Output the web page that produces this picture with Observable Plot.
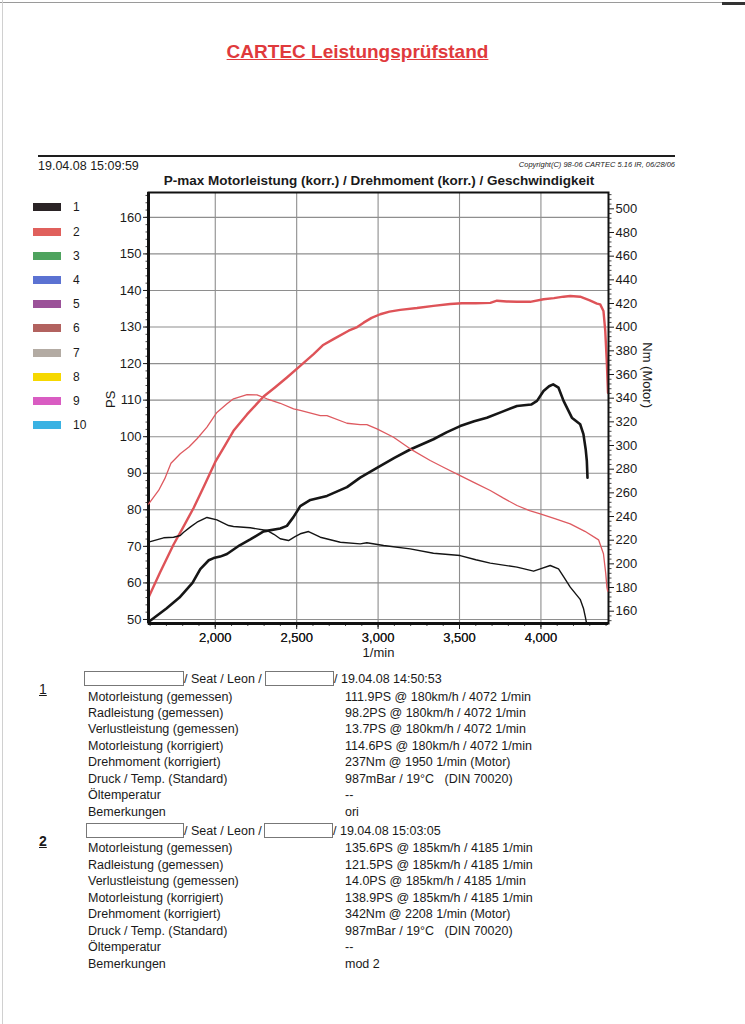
<!DOCTYPE html>
<html><head><meta charset="utf-8">
<script src="https://cdn.jsdelivr.net/npm/d3@7"></script>
<script src="https://cdn.jsdelivr.net/npm/@observablehq/plot@0.6"></script>
<style>
body{margin:0;background:#fff;font-family:"Liberation Sans",Arial,sans-serif;color:#1a1a1a;}
#page{position:relative;width:745px;height:1024px;overflow:hidden;background:#fff;}
.abs{position:absolute;white-space:pre;line-height:16px;}
.box{position:absolute;border:1px solid #777;height:13px;background:#fff;}
.plotwrap{position:absolute;left:0;top:186px;}
</style></head><body><div id="page"></div>
<script>
// ---------- data ----------
const rpmTicks = [2000, 2500, 3000, 3500, 4000];
const rpmMinor = [1600,1700,1800,1900,2100,2200,2300,2400,2600,2700,2800,2900,3100,3200,3300,3400,3600,3700,3800,3900,4100,4200,4300,4400];
const psTicks = [50, 60, 70, 80, 90, 100, 110, 120, 130, 140, 150, 160];
const psMinor = [50,52,54,56,58,60,62,64,66,68,70,72,74,76,78,80,82,84,86,88,90,92,94,96,98,100,102,104,106,108,110,112,114,116,118,120,122,124,126,128,130,132,134,136,138,140,142,144,146,148,150,152,154,156,158,160,162,164,166];
const nmTicks = [160, 180, 200, 220, 240, 260, 280, 300, 320, 340, 360, 380, 400, 420, 440, 460, 480, 500];
const nmMinor = [152,156,164,168,172,176,184,188,192,196,204,208,212,216,224,228,232,236,244,248,252,256,264,268,272,276,284,288,292,296,304,308,312,316,324,328,332,336,344,348,352,356,364,368,372,376,384,388,392,396,404,408,412,416,424,428,432,436,444,448,452,456,464,468,472,476,484,488,492,496,504,508,512];

const legendLabels = ["1","2","3","4","5","6","7","8","9","10"];
const legendColors = ["#2a2325","#e0605c","#4ea35e","#5b72d2","#9b5299","#b2625f","#b3aba3","#f6d800","#d95cc2","#3ab2e3"];

// Run 1 (black): power in PS, torque in Nm
const run1Power = [[1590,49.3],[1700,53],[1780,56],[1860,60],[1908,63.8],[1960,66.2],[1990,66.8],[2030,67.2],[2072,67.9],[2150,70.3],[2215,71.9],[2297,74.1],[2399,74.9],[2440,75.6],[2480,78],[2522,81],[2584,82.7],[2686,83.8],[2809,86.2],[2890,88.8],[2993,91.5],[3100,94.2],[3197,96.5],[3340,99.3],[3420,101.2],[3504,102.9],[3590,104.2],[3668,105.2],[3760,106.8],[3853,108.4],[3940,108.8],[3976,109.8],[4016,112.5],[4050,113.8],[4075,114.3],[4108,113.4],[4139,109.8],[4190,105.2],[4241,103.4],[4261,100.7],[4275,96.5],[4282,93.3],[4286,88.8]];
const run1Torque = [[1590,218.3],[1683,222],[1744,222.5],[1785,224],[1806,226.7],[1850,231.5],[1888,235.2],[1949,239.2],[2010,237.2],[2082,232.4],[2112,231.6],[2215,230.5],[2317,228.2],[2360,225],[2399,221.2],[2450,219.7],[2490,223],[2522,225.4],[2573,227.3],[2645,222.5],[2768,218.3],[2890,216.9],[2931,217.8],[3034,215.5],[3197,212.7],[3340,209],[3504,207],[3600,203.5],[3689,200.6],[3853,197.2],[3955,193.8],[3996,195.8],[4057,198.6],[4108,195.8],[4140,189],[4180,180.3],[4241,170],[4262,162],[4273,155],[4280,149.9]];

// Run 2 (red): power in PS, torque in Nm
const run2Power = [[1590,56],[1660,62.8],[1744,70.5],[1800,75],[1867,80.5],[1930,86.4],[2000,93.1],[2060,97.6],[2112,101.6],[2195,106.1],[2297,111],[2370,113.6],[2440,116.2],[2520,119.3],[2604,122.6],[2660,125],[2726,126.7],[2819,129],[2872,130],[2911,131.2],[2960,132.5],[3013,133.5],[3070,134.2],[3136,134.7],[3239,135.2],[3340,135.8],[3443,136.3],[3515,136.5],[3600,136.5],[3689,136.6],[3730,137.2],[3790,137],[3853,136.9],[3934,136.9],[4016,137.6],[4080,137.9],[4139,138.3],[4180,138.5],[4241,138.3],[4300,137.3],[4344,136.4],[4364,136.2],[4384,134.4],[4395,129],[4405,120],[4412,112]];
const run2Torque = [[1590,250.5],[1652,262],[1690,272],[1728,285],[1785,293],[1840,299],[1888,305.7],[1949,315.5],[2010,328],[2072,335.2],[2112,339.5],[2195,343],[2256,342.8],[2317,339.5],[2399,335.7],[2481,331],[2522,329.6],[2645,325.3],[2686,325.3],[2809,318.8],[2890,317.7],[2931,317.7],[2993,314],[3095,307],[3197,297.2],[3320,287.3],[3410,281],[3504,274.6],[3600,268],[3689,262],[3770,255.5],[3853,249.3],[3930,245],[3996,242.3],[4090,238],[4180,233.8],[4270,227.5],[4354,220.3],[4384,208.5],[4398,192],[4405,180.3],[4410,177]];

const headerDate = "19.04.08 15:09:59";
const copyright = "Copyright(C) 98-06 CARTEC 5.16 IR, 06/28/06";
const chartTitle = "P-max Motorleistung (korr.) / Drehmoment (korr.) / Geschwindigkeit";
const pageTitle = "CARTEC Leistungsprüfstand";

const rowLabels = ["Motorleistung (gemessen)","Radleistung (gemessen)","Verlustleistung (gemessen)","Motorleistung (korrigiert)","Drehmoment (korrigiert)","Druck / Temp. (Standard)","Öltemperatur","Bemerkungen"];
const run1Values = ["111.9PS @ 180km/h / 4072 1/min","98.2PS @ 180km/h / 4072 1/min","13.7PS @ 180km/h / 4072 1/min","114.6PS @ 180km/h / 4072 1/min","237Nm @ 1950 1/min (Motor)","987mBar / 19°C   (DIN 70020)","--","ori"];
const run2Values = ["135.6PS @ 185km/h / 4185 1/min","121.5PS @ 185km/h / 4185 1/min","14.0PS @ 185km/h / 4185 1/min","138.9PS @ 185km/h / 4185 1/min","342Nm @ 2208 1/min (Motor)","987mBar / 19°C   (DIN 70020)","--","mod 2"];
const run1Header = "/ 19.04.08 14:50:53";
const run2Header = "/ 19.04.08 15:03:05";
const carText = "/ Seat / Leon /";

// ---------- layout ----------
const page = document.getElementById("page");
function addText(txt, x, y, css) {
  const d = document.createElement("div");
  d.className = "abs";
  d.textContent = txt;
  d.style.left = x + "px";
  d.style.top = (y - 8) + "px";
  Object.assign(d.style, css || {});
  page.appendChild(d);
  return d;
}
function addBox(x, y, w) {
  const b = document.createElement("div");
  b.className = "box";
  b.style.left = x + "px"; b.style.top = y + "px"; b.style.width = w + "px";
  page.appendChild(b);
}
function addRect(x, y, w, h, c) {
  const r = document.createElement("div");
  r.style.cssText = `position:absolute;left:${x}px;top:${y}px;width:${w}px;height:${h}px;background:${c}`;
  page.appendChild(r);
}

// page edge lines (scan)
addRect(0, 2, 745, 1, "#9a9a9a");
addRect(722, 2, 23, 3, "#333");
addRect(2, 0, 1, 1024, "#d0d0d0");

// page title
addText(pageTitle, -15, 50, {width:"745px", textAlign:"center", fontSize:"19px", fontWeight:"bold", color:"#e03a3c", textDecoration:"underline", lineHeight:"20px"});

// header rule and texts
addRect(38, 155, 637, 2, "#1e1e1e");
addText(headerDate, 38, 166, {fontSize:"12.5px"});
addText(copyright, 0, 165, {fontSize:"7.5px", fontStyle:"italic", width:"675px", textAlign:"right"});
addText(chartTitle, 0, 181, {width:"758px", textAlign:"center", fontSize:"13.5px", fontWeight:"bold"});

// legend
legendLabels.forEach((lab, i) => {
  const cy = 207.3 + i * 24.2;
  addRect(33, cy - 4, 28, 8, legendColors[i]);
  addText(lab, 73, cy, {fontSize:"12px"});
});

// ---------- plots ----------
const fontFamily = '"Liberation Sans", Arial, sans-serif';
const common = {
  width: 745, height: 481,
  marginLeft: 148, marginRight: 137, marginTop: 6, marginBottom: 44,
  x: {domain: [1590, 4415]},
  style: {fontFamily, fontSize: "13px", color: "#1a1a1a", background: "transparent", overflow: "visible"}
};
const gridColor = "#8e8e8e";
const psPlot = Plot.plot({
  ...common,
  y: {domain: [48.9, 166.8]},
  marks: [
    Plot.gridX(rpmTicks, {stroke: gridColor, strokeOpacity: 1, strokeWidth: 1.1}),
    Plot.gridY(psTicks, {stroke: gridColor, strokeOpacity: 1, strokeWidth: 1.1}),
    Plot.axisY(psMinor, {tickSize: 2.5, tickFormat: () => "", label: null, strokeWidth: 0.8}),
    Plot.axisY(psTicks, {tickSize: 5, tickPadding: 2, label: null, fontSize: 13}),
    Plot.axisX(rpmMinor, {tickSize: 3, tickFormat: () => "", label: null, strokeWidth: 0.8}),
    Plot.axisX(rpmTicks, {tickSize: 4, tickPadding: 5, tickFormat: d3.format(","), label: null, fontSize: 13}),
    Plot.text(["PS"], {frameAnchor: "left", dx: -38, rotate: -90, fontSize: 13}),
    Plot.text(["1/min"], {frameAnchor: "bottom", dy: 33, fontSize: 13}),
    Plot.line(run2Power, {x: d => d[0], y: d => d[1], stroke: "#de5358", strokeWidth: 2.4, strokeLinejoin: "round"}),
    Plot.line(run1Power, {x: d => d[0], y: d => d[1], stroke: "#161616", strokeWidth: 2.6, strokeLinejoin: "round"}),
    Plot.frame({stroke: "#111", strokeWidth: 2}),
    Plot.ruleX([1590], {stroke: "#111", strokeWidth: 3}),
    Plot.ruleY([48.9], {stroke: "#111", strokeWidth: 3})
  ]
});
const nmPlot = Plot.plot({
  ...common,
  y: {domain: [149.6, 513.8]},
  marks: [
    Plot.axisY(nmMinor, {anchor: "right", tickSize: 2.5, tickFormat: () => "", label: null, strokeWidth: 0.8}),
    Plot.axisY(nmTicks, {anchor: "right", tickSize: 5, tickPadding: 2, label: null, fontSize: 13}),
    Plot.text(["Nm (Motor)"], {frameAnchor: "right", dx: 39, rotate: 90, fontSize: 13}),
    Plot.line(run2Torque, {x: d => d[0], y: d => d[1], stroke: "#de5a60", strokeWidth: 1.3, strokeLinejoin: "round"}),
    Plot.line(run1Torque, {x: d => d[0], y: d => d[1], stroke: "#141414", strokeWidth: 1.4, strokeLinejoin: "round"})
  ]
});
const w1 = document.createElement("div"); w1.className = "plotwrap"; w1.appendChild(psPlot); page.appendChild(w1);
const w2 = document.createElement("div"); w2.className = "plotwrap"; w2.appendChild(nmPlot); page.appendChild(w2);

// ---------- result tables ----------
function runBlock(num, bold, headerY, rowsStart, step, header, values, box1, box2) {
  addText(num, 39, headerY + 10, {fontSize:"14px", textDecoration:"underline", fontWeight: bold ? "bold" : "normal"});
  addBox(box1[0], headerY - 8, box1[1] - box1[0]);
  addText(carText, box1[1] + 2, headerY, {fontSize:"12.5px"});
  addBox(box2[0], headerY - 8, box2[1] - box2[0]);
  addText(header, box2[1] + 2, headerY, {fontSize:"12.5px"});
  rowLabels.forEach((lab, i) => {
    const y = rowsStart + i * step;
    addText(lab, 88, y, {fontSize:"12.5px"});
    addText(values[i], 345, y, {fontSize:"12.5px"});
  });
}
runBlock("1", false, 679, 696.5, 16.45, run1Header, run1Values, [84, 182], [265, 332]);
runBlock("2", true, 831, 848.3, 16.5, run2Header, run2Values, [86, 182], [264, 331]);
</script></body></html>
